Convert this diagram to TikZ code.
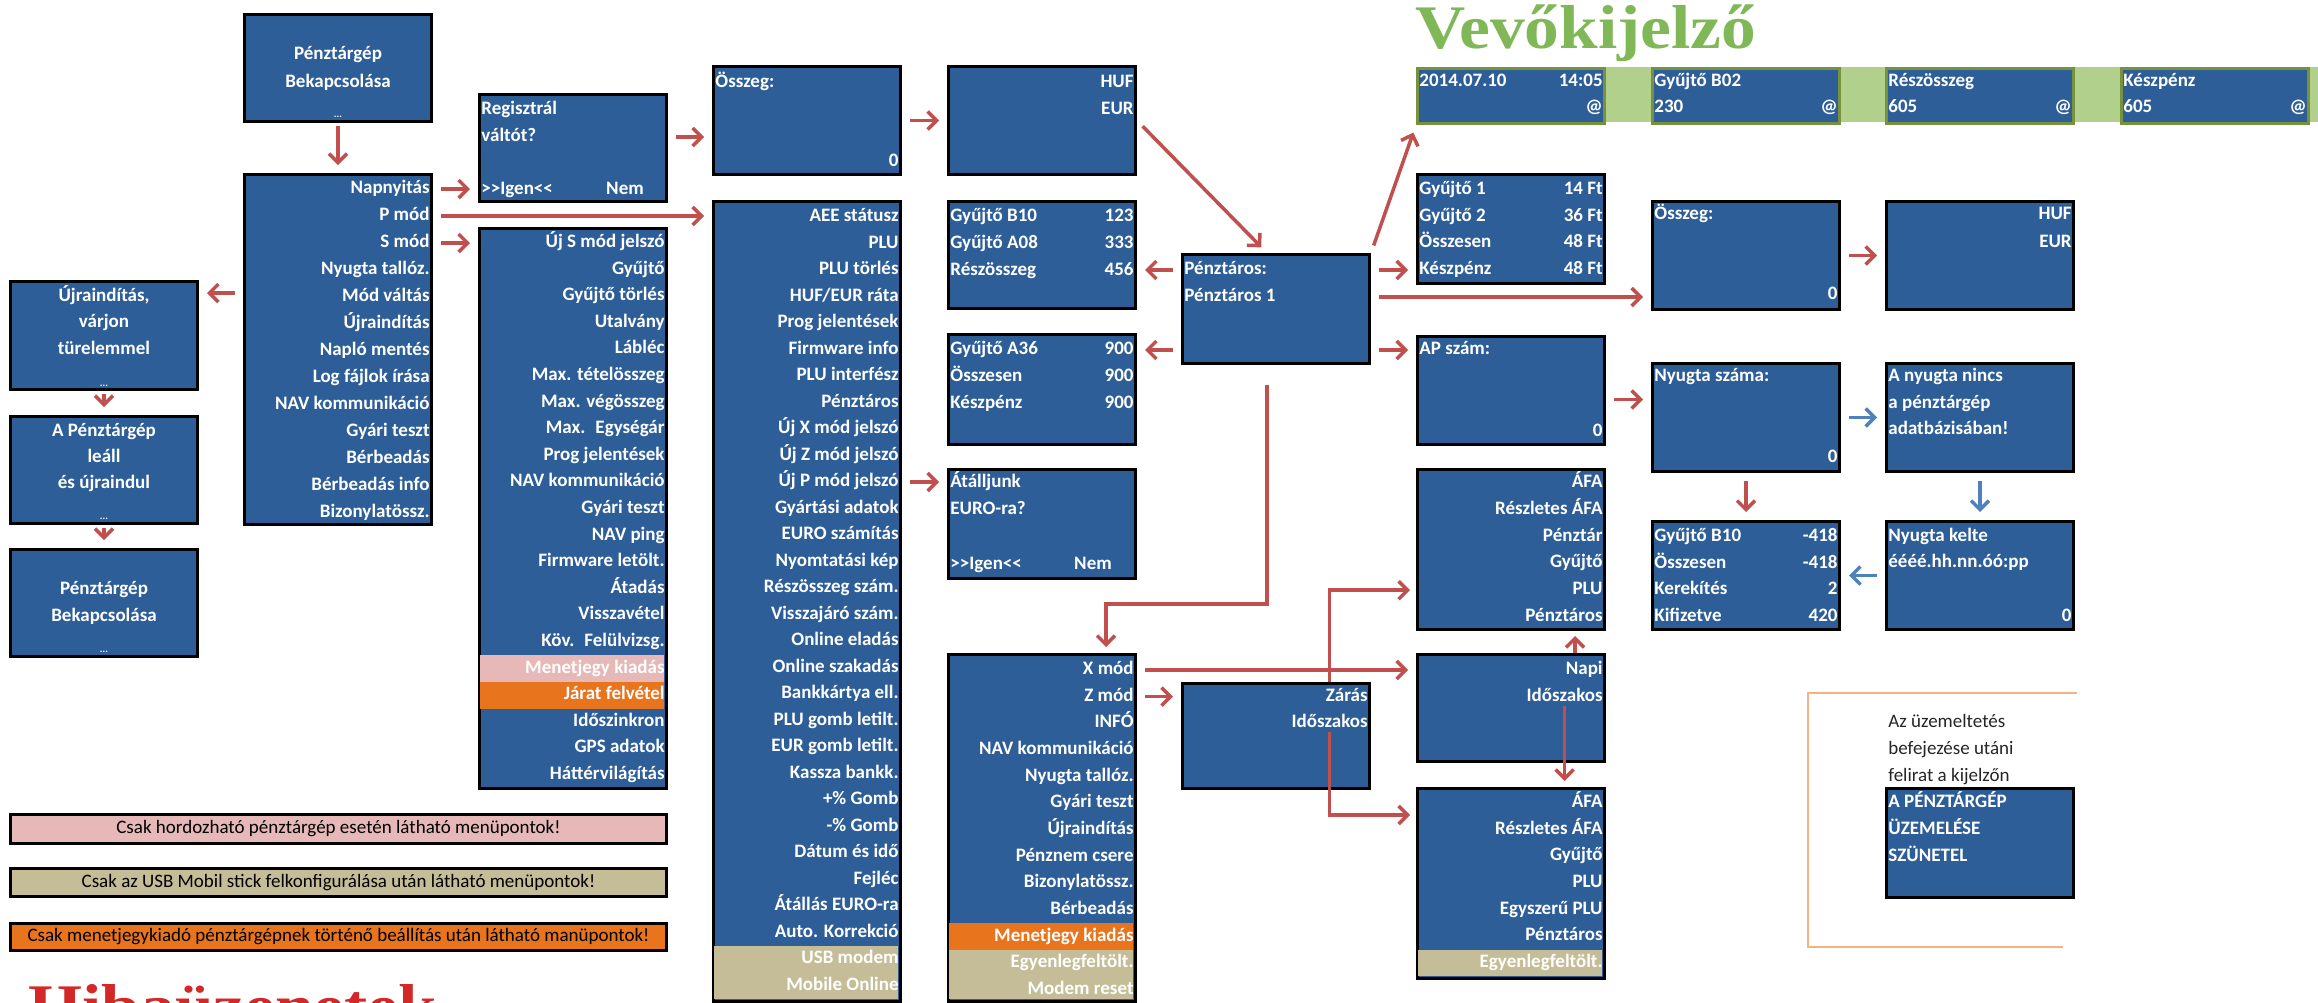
\documentclass[tikz,border=0pt]{standalone}
\usepackage{fontspec}
\setmainfont{Carlito}
\newfontfamily\screenfont{Carlito}
\newfontfamily\titlefont{Liberation Serif}[FakeStretch=1.12]
\usetikzlibrary{arrows.meta, calc, positioning}
\definecolor{scrblue}{RGB}{45,94,152}
\definecolor{arrred}{RGB}{192,80,77}
\definecolor{arrblue}{RGB}{79,129,189}
\definecolor{olivebg}{RGB}{196,189,151}
\definecolor{pinkbg}{RGB}{230,184,183}
\definecolor{orangebg}{RGB}{232,116,30}
\definecolor{dispborder}{RGB}{118,146,60}
\definecolor{dispband}{RGB}{176,208,140}
\definecolor{titlegreen}{RGB}{128,184,88}
\definecolor{titlered}{RGB}{210,40,40}
\definecolor{notebr}{RGB}{244,177,131}
\tikzstyle{screen}  = [rectangle, draw=black, line width=1.5pt, fill=scrblue, anchor=north west,
                       inner sep=0pt, minimum width=93.5pt, minimum height=54pt]
\tikzstyle{display} = [screen, draw=dispborder, minimum height=27.5pt]
\tikzstyle{itemr}   = [anchor=east, inner sep=0pt, text=white, font=\screenfont\bfseries\fontsize{9.5}{11}\selectfont,
                       text height=6.5pt, text depth=2pt]
\tikzstyle{iteml}   = [itemr, anchor=west]
\tikzstyle{itemc}   = [itemr, anchor=center]
\tikzstyle{dots}    = [itemc, font=\screenfont\bfseries\fontsize{5}{6}\selectfont]
\tikzstyle{legend}  = [rectangle, draw=black, line width=1.5pt, anchor=north west, inner sep=0pt,
                       minimum width=328pt, font=\fontsize{9.5}{11}\selectfont, text=black]
\tikzstyle{notetxt} = [anchor=west, inner sep=0pt, text=black!85, font=\fontsize{9.5}{11}\selectfont,
                       text height=6.5pt, text depth=2pt]
\tikzstyle{bigtitle}= [anchor=base west, inner sep=0pt, font=\titlefont\bfseries\fontsize{31}{33}\selectfont]
\tikzstyle{arrow}   = [-{Straight Barb[length=4.5pt,width=9pt]}, line width=1.75pt, draw=arrred,
                       shorten >=4pt, shorten <=4pt]
\tikzstyle{arrowb}  = [arrow, draw=arrblue]

\begin{document}
\begin{tikzpicture}[x=0.5pt, y=-0.5pt]
  \useasboundingbox (0,0) rectangle (2318,1002);
  \fill[white] (0,0) rectangle (2318,1002);

  % customer display strip
  \fill[dispband] (1416,67) rectangle (2318,122);
  \node (vtitle) [bigtitle, text=titlegreen] at (1415,48) {Vevőkijelző};
  \node (htitle) [bigtitle, text=titlered] at (28,1027) {Hibaüzenetek};

  % power on, main menu, restart chain
  \node (bek1) [screen, minimum height=53.5pt] at (243,13) {};
  \node (bek1-0) [itemc] at ($(bek1.north)+(0,42)$) {Pénztárgép};
  \node (bek1-1) [itemc] at ($(bek1.north)+(0,70)$) {Bekapcsolása};
  \node (bek1-2) [dots]  at ($(bek1.north)+(0,100)$) {...};

  \node (main) [screen, minimum height=175pt] at (243,173) {};
  \foreach \t [count=\i from 0] in {Napnyitás, P mód, S mód, Nyugta tallóz., Mód váltás, Újraindítás,
      Napló mentés, Log fájlok írása, NAV kommunikáció, Gyári teszt, Bérbeadás, Bérbeadás info, Bizonylatössz.}
    \node (main-\i) [itemr] at ($(main.north east)+(-3,16+27*\i)$) {\t};

  \node (rest) [screen] at (9,280) {};
  \node (rest-0) [itemc] at ($(rest.north)+(0,17)$) {Újraindítás,};
  \node (rest-1) [itemc] at ($(rest.north)+(0,43)$) {várjon};
  \node (rest-2) [itemc] at ($(rest.north)+(0,70)$) {türelemmel};
  \node (rest-3) [dots]  at ($(rest.north)+(0,102)$) {...};

  \node (leall) [screen, minimum height=53.5pt] at (9,415) {};
  \node (leall-0) [itemc] at ($(leall.north)+(0,17)$) {A Pénztárgép};
  \node (leall-1) [itemc] at ($(leall.north)+(0,43)$) {leáll};
  \node (leall-2) [itemc] at ($(leall.north)+(0,69)$) {és újraindul};
  \node (leall-3) [dots]  at ($(leall.north)+(0,100)$) {...};

  \node (bek2) [screen, minimum height=53.5pt] at (9,548) {};
  \node (bek2-0) [itemc] at ($(bek2.north)+(0,42)$) {Pénztárgép};
  \node (bek2-1) [itemc] at ($(bek2.north)+(0,69)$) {Bekapcsolása};
  \node (bek2-2) [dots]  at ($(bek2.north)+(0,100)$) {...};

  % register / S mode
  \node (reg) [screen, minimum height=53.5pt] at (478,93) {};
  \node (reg-0) [iteml] at ($(reg.north west)+(3,17)$) {Regisztrál};
  \node (reg-1) [iteml] at ($(reg.north west)+(3,44)$) {váltót?};
  \node (reg-2) [iteml] at ($(reg.north west)+(3,97)$) {>>Igen<<};
  \node (reg-3) [itemc] at ($(reg.north west)+(147,97)$) {Nem};

  \node (smenu) [screen, minimum height=280pt] at (478,227) {};
  \fill[pinkbg] (479.5,655.3) rectangle (663.5,681.9);
  \fill[orangebg] (479.5,681.9) rectangle (663.5,708.5);
  \foreach \t [count=\i from 0] in {Új S mód jelszó, Gyűjtő, Gyűjtő törlés, Utalvány, Lábléc,
      Max. tételösszeg, Max. végösszeg, Max.~ Egységár, Prog jelentések, NAV kommunikáció, Gyári teszt,
      NAV ping, Firmware letölt., Átadás, Visszavétel, Köv.~ Felülvizsg., Menetjegy kiadás, Járat felvétel,
      Időszinkron, GPS adatok, Háttérvilágítás}
    \node (smenu-\i) [itemr] at ($(smenu.north east)+(-3,16+26.6*\i)$) {\t};

  % P mode
  \node (osszeg) [screen] at (712,65) {};
  \node (osszeg-0) [iteml] at ($(osszeg.north west)+(3,18)$) {Összeg:};
  \node (osszeg-1) [itemr] at ($(osszeg.north east)+(-3,97)$) {0};

  \node (penznem) [screen] at (947,65) {};
  \node (penznem-0) [itemr] at ($(penznem.north east)+(-3,18)$) {HUF};
  \node (penznem-1) [itemr] at ($(penznem.north east)+(-3,45)$) {EUR};

  \node (aee) [screen, minimum height=400pt] at (712,200) {};
  \fill[olivebg] (713.5,945.8) rectangle (897.5,998.5);
  \foreach \t [count=\i from 0] in {AEE státusz, PLU, PLU törlés, {HUF/EUR ráta}, Prog jelentések,
      Firmware info, PLU interfész, Pénztáros, Új X mód jelszó, Új Z mód jelszó, Új P mód jelszó,
      Gyártási adatok, EURO számítás, Nyomtatási kép, Részösszeg szám., Visszajáró szám., Online eladás,
      Online szakadás, Bankkártya ell., PLU gomb letilt., EUR gomb letilt., Kassza bankk., +\% Gomb,
      -\% Gomb, Dátum és idő, Fejléc, Átállás EURO-ra, Auto. Korrekció, USB modem, Mobile Online}
    \node (aee-\i) [itemr] at ($(aee.north east)+(-3,17+26.5*\i)$) {\t};

  \node (gyb10) [screen, minimum height=53.5pt] at (947,200) {};
  \foreach \l/\r [count=\i from 0] in {Gyűjtő B10/123, Gyűjtő A08/333, Részösszeg/456} {
    \node (gyb10-\i) [iteml] at ($(gyb10.north west)+(3,17+27*\i)$) {\l};
    \node (gyb10-v\i) [itemr] at ($(gyb10.north east)+(-3,17+27*\i)$) {\r};
  }

  \node (gya36) [screen, minimum height=55pt] at (947,333) {};
  \foreach \l/\r [count=\i from 0] in {Gyűjtő A36/900, Összesen/900, Készpénz/900} {
    \node (gya36-\i) [iteml] at ($(gya36.north west)+(3,17+27*\i)$) {\l};
    \node (gya36-v\i) [itemr] at ($(gya36.north east)+(-3,17+27*\i)$) {\r};
  }

  \node (atall) [screen, minimum height=54.5pt] at (947,468) {};
  \node (atall-0) [iteml] at ($(atall.north west)+(3,15)$) {Átálljunk};
  \node (atall-1) [iteml] at ($(atall.north west)+(3,42)$) {EURO-ra?};
  \node (atall-2) [iteml] at ($(atall.north west)+(3,97)$) {>>Igen<<};
  \node (atall-3) [itemc] at ($(atall.north west)+(146,97)$) {Nem};

  % cashier, X / Z mode
  \node (penzt) [screen, minimum height=54.5pt] at (1181,253) {};
  \node (penzt-0) [iteml] at ($(penzt.north west)+(3,17)$) {Pénztáros:};
  \node (penzt-1) [iteml] at ($(penzt.north west)+(3,44)$) {Pénztáros 1};

  \node (xmod) [screen, minimum height=173.5pt] at (947,653) {};
  \fill[orangebg] (948.5,923.3) rectangle (1132.5,950);
  \fill[olivebg] (948.5,950) rectangle (1132.5,998.5);
  \foreach \t [count=\i from 0] in {X mód, Z mód, INFÓ, NAV kommunikáció, Nyugta tallóz., Gyári teszt,
      Újraindítás, Pénznem csere, Bizonylatössz., Bérbeadás, Menetjegy kiadás, Egyenlegfeltölt., Modem reset}
    \node (xmod-\i) [itemr] at ($(xmod.north east)+(-3,17+26.67*\i)$) {\t};

  \node (zaras) [screen, minimum height=52.5pt] at (1181,682) {};
  \node (zaras-0) [itemr] at ($(zaras.north east)+(-3,15)$) {Zárás};
  \node (zaras-1) [itemr] at ($(zaras.north east)+(-3,41)$) {Időszakos};

  % customer display
  \node (v1) [display] at (1416,67) {};
  \node (v1-0) [iteml] at ($(v1.north west)+(3,15)$) {2014.07.10};
  \node (v1-1) [itemr] at ($(v1.north east)+(-3,15)$) {14:05};
  \node (v1-2) [itemr] at ($(v1.north east)+(-3,41)$) {@};
  \node (v2) [display] at (1651,67) {};
  \node (v2-0) [iteml] at ($(v2.north west)+(3,15)$) {Gyűjtő B02};
  \node (v2-1) [iteml] at ($(v2.north west)+(3,41)$) {230};
  \node (v2-2) [itemr] at ($(v2.north east)+(-3,41)$) {@};
  \node (v3) [display] at (1885,67) {};
  \node (v3-0) [iteml] at ($(v3.north west)+(3,15)$) {Részösszeg};
  \node (v3-1) [iteml] at ($(v3.north west)+(3,41)$) {605};
  \node (v3-2) [itemr] at ($(v3.north east)+(-3,41)$) {@};
  \node (v4) [display] at (2120,67) {};
  \node (v4-0) [iteml] at ($(v4.north west)+(3,15)$) {Készpénz};
  \node (v4-1) [iteml] at ($(v4.north west)+(3,41)$) {605};
  \node (v4-2) [itemr] at ($(v4.north east)+(-3,41)$) {@};

  % right part
  \node (gy1) [screen, minimum height=54.5pt] at (1416,173) {};
  \foreach \l/\r [count=\i from 0] in {Gyűjtő 1/14 Ft, Gyűjtő 2/36 Ft, Összesen/48 Ft, Készpénz/48 Ft} {
    \node (gy1-\i) [iteml] at ($(gy1.north west)+(3,17+26.7*\i)$) {\l};
    \node (gy1-v\i) [itemr] at ($(gy1.north east)+(-3,17+26.7*\i)$) {\r};
  }

  \node (osszeg2) [screen] at (1651,200) {};
  \node (osszeg2-0) [iteml] at ($(osszeg2.north west)+(3,15)$) {Összeg:};
  \node (osszeg2-1) [itemr] at ($(osszeg2.north east)+(-3,95)$) {0};

  \node (penznem2) [screen] at (1885,200) {};
  \node (penznem2-0) [itemr] at ($(penznem2.north east)+(-3,15)$) {HUF};
  \node (penznem2-1) [itemr] at ($(penznem2.north east)+(-3,43)$) {EUR};

  \node (apszam) [screen] at (1416,335) {};
  \node (apszam-0) [iteml] at ($(apszam.north west)+(3,15)$) {AP szám:};
  \node (apszam-1) [itemr] at ($(apszam.north east)+(-3,97)$) {0};

  \node (nyszam) [screen] at (1651,362) {};
  \node (nyszam-0) [iteml] at ($(nyszam.north west)+(3,15)$) {Nyugta száma:};
  \node (nyszam-1) [itemr] at ($(nyszam.north east)+(-3,96)$) {0};

  \node (nincs) [screen] at (1885,362) {};
  \node (nincs-0) [iteml] at ($(nincs.north west)+(3,15)$) {A nyugta nincs};
  \node (nincs-1) [iteml] at ($(nincs.north west)+(3,42)$) {a pénztárgép};
  \node (nincs-2) [iteml] at ($(nincs.north west)+(3,68)$) {adatbázisában!};

  \node (afa1) [screen, minimum height=80pt] at (1416,468) {};
  \foreach \t [count=\i from 0] in {ÁFA, Részletes ÁFA, Pénztár, Gyűjtő, PLU, Pénztáros}
    \node (afa1-\i) [itemr] at ($(afa1.north east)+(-3,15+26.8*\i)$) {\t};

  \node (b418) [screen] at (1651,520) {};
  \foreach \l/\r [count=\i from 0] in {Gyűjtő B10/-418, Összesen/-418, Kerekítés/2, Kifizetve/420} {
    \node (b418-\i) [iteml] at ($(b418.north west)+(3,17+26.7*\i)$) {\l};
    \node (b418-v\i) [itemr] at ($(b418.north east)+(-3,17+26.7*\i)$) {\r};
  }

  \node (kelte) [screen] at (1885,520) {};
  \node (kelte-0) [iteml] at ($(kelte.north west)+(3,17)$) {Nyugta kelte};
  \node (kelte-1) [iteml] at ($(kelte.north west)+(3,43)$) {éééé.hh.nn.óó:pp};
  \node (kelte-2) [itemr] at ($(kelte.north east)+(-3,97)$) {0};

  \node (napi) [screen, minimum height=53.5pt] at (1416,653) {};
  \node (napi-0) [itemr] at ($(napi.north east)+(-3,17)$) {Napi};
  \node (napi-1) [itemr] at ($(napi.north east)+(-3,44)$) {Időszakos};

  \node (afa2) [screen, minimum height=95pt] at (1416,787) {};
  \fill[olivebg] (1417.5,949.7) rectangle (1601.5,975.5);
  \foreach \t [count=\i from 0] in {ÁFA, Részletes ÁFA, Gyűjtő, PLU, Egyszerű PLU, Pénztáros, Egyenlegfeltölt.}
    \node (afa2-\i) [itemr] at ($(afa2.north east)+(-3,16+26.67*\i)$) {\t};

  % note on the closed till
  \draw[notebr, line width=1pt] (2077,693) -- (1808,693) -- (1808,947) -- (2063,947);
  \foreach \t [count=\i from 0] in {Az üzemeltetés, befejezése utáni, felirat a kijelzőn}
    \node (note-\i) [notetxt] at (1888,723+27*\i) {\t};
  \node (szunet) [screen, minimum height=54.5pt] at (1885,787) {};
  \foreach \t [count=\i from 0] in {A PÉNZTÁRGÉP, ÜZEMELÉSE, SZÜNETEL}
    \node (szunet-\i) [iteml] at ($(szunet.north west)+(3,16+27*\i)$) {\t};

  % legend
  \node (leg1) [legend, fill=pinkbg, minimum height=14.5pt] at (9,813)
    {Csak hordozható pénztárgép esetén látható menüpontok!};
  \node (leg2) [legend, fill=olivebg, minimum height=14pt] at (9,867)
    {Csak az USB Mobil stick felkonfigurálása után látható menüpontok!};
  \node (leg3) [legend, fill=orangebg, minimum height=13.5pt] at (9,922)
    {Csak menetjegykiadó pénztárgépnek történő beállítás után látható manüpontok!};

  % connectors
  \coordinate (restin) at ($(rest.north east)+(0,13)$);
  \coordinate (apout) at ($(apszam.east)+(0,9)$);
  \coordinate (xbend) at ($(penzt.south |- atall.south)+(-9,24)$);

  \draw [arrow, shorten <=1.5pt] (bek1) -- (main);
  \draw [arrow] (main-0 -| main.east) -- (main-0 -| reg.west);
  \draw [arrow] (main-1 -| main.east) -- (main-1 -| aee.west);
  \draw [arrow] (main-2 -| main.east) -- (main-2 -| smenu.west);
  \draw [arrow] (restin -| main.west) -- (restin);
  \draw [arrow, shorten <=1.5pt] (rest) -- (leall);
  \draw [arrow, shorten <=1.5pt] (leall) -- (bek2);
  \draw [arrow] (reg-1 -| reg.east) -- (reg-1 -| osszeg.west);
  \draw [arrow] (osszeg) -- (penznem);
  \draw [arrow] (penznem.east) -- ($(penzt.north)+(-9,0)$);
  \draw [arrow] (penzt-0 -| penzt.west) -- (penzt-0 -| gyb10.east);
  \draw [arrow] (gya36-0 -| penzt.west) -- (gya36-0 -| gya36.east);
  \draw [arrow] (aee-10 -| aee.east) -- (aee-10 -| atall.west);
  \draw [arrow] (penzt.north east) -- (v1.south west);
  \draw [arrow] (penzt-0 -| penzt.east) -- (penzt-0 -| gy1.west);
  \draw [arrow] (penzt-1 -| penzt.east) -- (penzt-1 -| osszeg2.west);
  \draw [arrow] (apszam-0 -| penzt.east) -- (apszam-0 -| apszam.west);
  \draw [arrow] (osszeg2) -- (penznem2);
  \draw [arrow] (apout) -- (apout -| nyszam.west);
  \draw [arrowb] (nyszam) -- (nincs);
  \draw [arrow] (nyszam) -- (b418);
  \draw [arrowb] (nincs) -- (kelte);
  \draw [arrowb] (kelte) -- (b418);
  \draw [arrow, shorten <=10pt, shorten >=3pt] (xbend |- penzt.south) -- (xbend) -| ($(xmod.north)+(64,0)$);
  \draw [arrow] (xmod-0 -| xmod.east) -- (xmod-0 -| napi.west);
  \draw [arrow] (xmod-1 -| xmod.east) -- (xmod-1 -| zaras.west);
  \draw [arrow, shorten <=0pt, shorten >=3pt] (zaras-1 |- zaras.north) |- (afa1-4 -| afa1.west);
  \draw [arrow, shorten <=0pt, shorten >=3pt] (zaras-1.south) |- ($(afa2.north west)+(0,28)$);
  \draw [arrow, shorten <=0pt, shorten >=2.5pt] ($(napi.north)+(64,0)$) -- ($(afa1.south)+(64,0)$);
  \draw [arrow, shorten <=0pt, shorten >=3pt] (napi-1.south) -- (napi-1.south |- afa2.north);
\end{tikzpicture}
\end{document}
